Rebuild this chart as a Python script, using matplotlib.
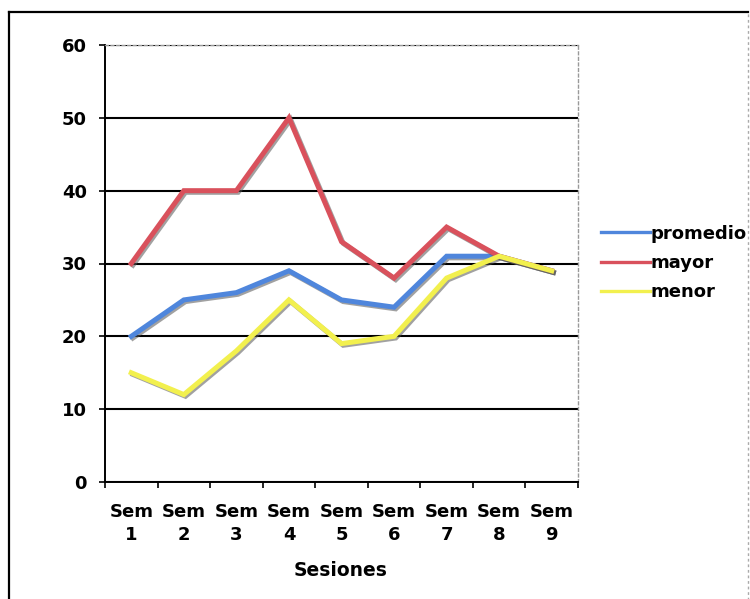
import matplotlib
matplotlib.use("Agg")
import matplotlib.pyplot as plt
import matplotlib.patheffects as pe
from matplotlib.lines import Line2D
import numpy as np

categories = ["Sem\n1", "Sem\n2", "Sem\n3", "Sem\n4", "Sem\n5", "Sem\n6", "Sem\n7", "Sem\n8", "Sem\n9"]
promedio = [20, 25, 26, 29, 25, 24, 31, 31, 29]
mayor = [30, 40, 40, 50, 33, 28, 35, 31, 29]
menor = [15, 12, 18, 25, 19, 20, 28, 31, 29]
yticks = [0, 10, 20, 30, 40, 50, 60]

plt.rcParams['font.family'] = ['DejaVu Sans']
plt.rcParams['font.weight'] = 'bold'

W, H = 750, 599
fig = plt.figure(figsize=(7.5, 5.99), dpi=100)
ax = fig.add_axes([105 / W, 1 - 482 / H, (578 - 105) / W, (482 - 45) / H])

x = np.arange(len(categories))
shadow = [pe.SimpleLineShadow(offset=(1.2, -1.2), shadow_color='#555555', alpha=0.55), pe.Normal()]
ax.plot(x, promedio, color='#4f86dc', lw=3.6, label='promedio', path_effects=shadow, solid_joinstyle='miter')
ax.plot(x, mayor, color='#d9515c', lw=3.6, label='mayor', path_effects=shadow, solid_joinstyle='miter')
ax.plot(x, menor, color='#f2f04e', lw=3.6, label='menor', path_effects=shadow, solid_joinstyle='miter')

ax.set_xlim(-0.5, len(categories) - 0.5)
ax.set_ylim(0, 60)
ax.set_yticks(yticks)
ax.set_yticklabels([str(v) for v in yticks], fontsize=13, fontweight='bold')
ax.set_xticks(x)
ax.set_xticklabels(categories, fontsize=13, fontweight='bold', linespacing=1.4)
ax.set_xticks(np.arange(-0.5, len(categories) + 0.5, 1), minor=True)
ax.tick_params(axis='x', which='major', length=0, pad=15)
ax.tick_params(axis='x', which='minor', length=4, width=1.2, direction='out', color='black')
ax.tick_params(axis='y', length=4, width=1.2, pad=9, color='black')

ax.grid(axis='y', color='black', lw=1.5)
ax.set_axisbelow(True)
ax.spines['left'].set_color('black')
ax.spines['left'].set_linewidth(1.4)
ax.spines['bottom'].set_color('black')
ax.spines['bottom'].set_linewidth(1.4)
for s in ['top', 'right']:
    ax.spines[s].set_color('#999999')
    ax.spines[s].set_linewidth(1.0)
    ax.spines[s].set_linestyle((0, (2, 2)))

fig.text(341 / W, 1 - 571 / H, 'Sesiones', ha='center', va='center', fontsize=13.5, fontweight='bold')

leg = fig.legend(loc='center left', bbox_to_anchor=(601 / W, 1 - 263 / H), frameon=False,
                 fontsize=13, handlelength=2.7, handletextpad=0.05, labelspacing=0.62,
                 borderpad=0, borderaxespad=0)
for h in leg.get_lines():
    h.set_linewidth(2.4)
    h.set_path_effects([])
for t in leg.get_texts():
    t.set_fontweight('bold')

# outer chart border
fig.add_artist(Line2D([9 / W, 9 / W], [-0.01, 1 - 12 / H], transform=fig.transFigure, color='black', lw=1.6))
fig.add_artist(Line2D([9 / W, 748 / W], [1 - 12 / H, 1 - 12 / H], transform=fig.transFigure, color='black', lw=1.6))
fig.add_artist(Line2D([748 / W, 748 / W], [-0.01, 1 - 12 / H], transform=fig.transFigure, color='#aaaaaa', lw=1.0, ls=(0, (2, 2))))

fig.savefig('out.png', dpi=100)
